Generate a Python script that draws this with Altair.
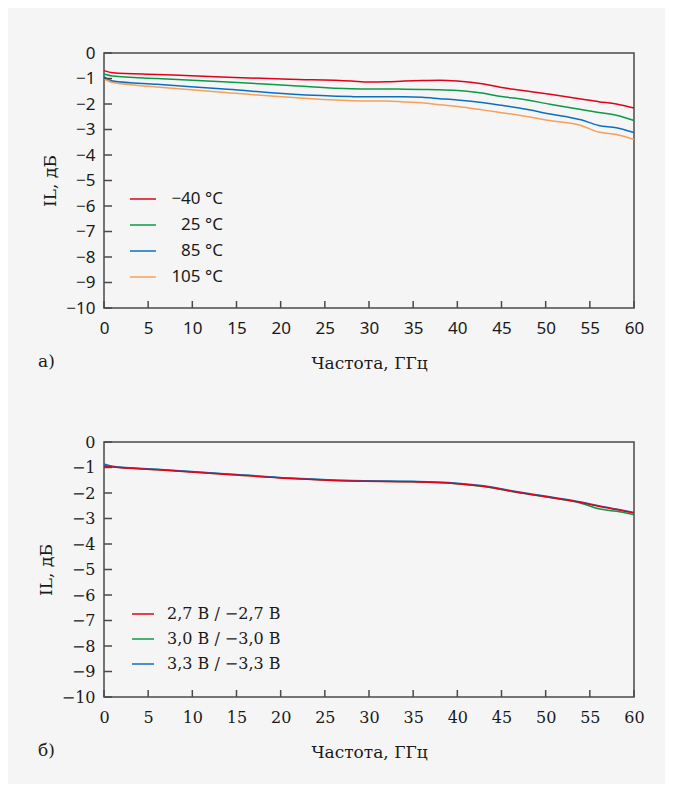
import altair as alt
import pandas as pd

# ---------- panel а) temperature ----------
freq_a = [0, 1, 6, 14, 21, 28, 30, 32, 34, 36, 38, 40, 43, 45, 47, 50.5, 54, 56, 58, 60]
il_m40 = [-0.69, -0.77, -0.84, -0.95, -1.03, -1.10, -1.14, -1.13, -1.10, -1.08, -1.07, -1.10,
          -1.22, -1.35, -1.45, -1.62, -1.80, -1.91, -2.00, -2.16]
il_25 = [-0.82, -0.90, -1.00, -1.14, -1.27, -1.40, -1.41, -1.41, -1.42, -1.43, -1.44, -1.47,
         -1.58, -1.71, -1.79, -2.01, -2.22, -2.33, -2.44, -2.65]
il_85 = [-0.93, -1.10, -1.23, -1.42, -1.61, -1.71, -1.72, -1.72, -1.72, -1.74, -1.79, -1.84,
         -1.95, -2.05, -2.16, -2.39, -2.62, -2.84, -2.93, -3.12]
il_105 = [-1.02, -1.16, -1.33, -1.56, -1.74, -1.87, -1.88, -1.88, -1.92, -1.95, -2.03, -2.10,
          -2.24, -2.34, -2.44, -2.65, -2.84, -3.10, -3.20, -3.39]
temp_labels = ["−40 °C", "25 °C", "85 °C", "105 °C"]
temp_colors = ["#e3001b", "#0a9a48", "#0b6fc0", "#f7a05a"]

# ---------- panel б) supply voltage ----------
freq_b = [0, 1, 6, 14, 21, 28, 35, 39, 42.7, 46.5, 50.3, 54, 56, 58, 60]
il_27 = [-0.95, -0.98, -1.09, -1.27, -1.43, -1.53, -1.56, -1.61, -1.73, -1.95, -2.16, -2.37,
         -2.52, -2.65, -2.78]
il_30 = [-0.92, -0.97, -1.08, -1.26, -1.42, -1.52, -1.56, -1.61, -1.74, -1.96, -2.17, -2.40,
         -2.62, -2.72, -2.85]
il_33 = [-0.86, -0.95, -1.07, -1.25, -1.41, -1.51, -1.54, -1.59, -1.71, -1.93, -2.14, -2.35,
         -2.50, -2.63, -2.76]
volt_labels = ["2,7 В / −2,7 В", "3,0 В / −3,0 В", "3,3 В / −3,3 В"]
volt_colors = ["#e3001b", "#0a9a48", "#0b6fc0"]

x_ticks = list(range(0, 61, 5))
y_ticks = list(range(0, -11, -1))

W, H = 530, 255
FRAME = "#4a4a4a"
SANS = "Noto Sans"
SERIF = "DejaVu Serif"


def build(freqs, series, labels, draw_order):
    rows = []
    for lab in draw_order:
        vals = series[labels.index(lab)]
        for f, v in zip(freqs, vals):
            rows.append({"f": f, "il": v, "s": lab})
    return pd.DataFrame(rows)


df_a = build(freq_a, [il_m40, il_25, il_85, il_105], temp_labels,
             [temp_labels[3], temp_labels[2], temp_labels[1], temp_labels[0]])
df_b = build(freq_b, [il_27, il_30, il_33], volt_labels,
             [volt_labels[1], volt_labels[2], volt_labels[0]])

xscale = alt.Scale(domain=[0, 60], nice=False, zero=False)
yscale = alt.Scale(domain=[-10, 0], nice=False, zero=False)


def panel(df, labels, colors, font, fsize, legend, tag):
    x_axis = alt.Axis(values=x_ticks, title="Частота, ГГц", ticks=False, domain=False,
                      grid=False, labelFont=font, labelFontSize=fsize, labelColor="#1a1a1a",
                      labelPadding=12, titleFont=SERIF, titleFontSize=17,
                      titleFontWeight="normal", titleColor="#1a1a1a", titlePadding=19,
                      labelFlush=False, labelOverlap=False)
    y_axis = alt.Axis(values=y_ticks, title="IL, дБ", ticks=False, domain=False,
                      grid=False, labelFont=font, labelFontSize=fsize, labelColor="#1a1a1a",
                      labelPadding=9, titleFont=SERIF, titleFontSize=17,
                      titleFontWeight="normal", titleColor="#1a1a1a", titlePadding=6,
                      labelFlush=False, labelOverlap=False,
                      labelExpr="replace(datum.label, '-', '−')")
    lines = alt.Chart(df).mark_line(strokeWidth=1.5, interpolate="monotone").encode(
        x=alt.X("f:Q", scale=xscale, axis=x_axis),
        y=alt.Y("il:Q", scale=yscale, axis=y_axis),
        color=alt.Color("s:N", scale=alt.Scale(domain=labels, range=colors),
                        sort=labels, legend=legend),
    )
    yt = alt.Chart(pd.DataFrame({"il": y_ticks})).mark_rule(color=FRAME, strokeWidth=1.5).encode(
        y=alt.Y("il:Q", scale=yscale, axis=y_axis), x=alt.value(0), x2=alt.value(8))
    xt = alt.Chart(pd.DataFrame({"f": x_ticks})).mark_rule(color=FRAME, strokeWidth=1.5).encode(
        x=alt.X("f:Q", scale=xscale, axis=x_axis), y=alt.value(H), y2=alt.value(H - 7))
    lab = alt.Chart(pd.DataFrame({"t": [tag]})).mark_text(
        align="left", baseline="alphabetic", font=SERIF, fontSize=17, color="#1a1a1a"
    ).encode(text="t:N", x=alt.value(-66), y=alt.value(H + 59))
    return alt.layer(lines, yt, xt, lab).properties(width=W, height=H)


leg_a = alt.Legend(orient="none", legendX=25, legendY=132, title=None, symbolType="stroke",
                   symbolSize=676, symbolStrokeWidth=1.5, labelFont=SANS, labelFontSize=17,
                   labelColor="#1a1a1a", labelAlign="right", labelOffset=66, rowPadding=4,
                   labelLimit=200)
leg_b = alt.Legend(orient="none", legendX=27, legendY=160, title=None, symbolType="stroke",
                   symbolSize=484, symbolStrokeWidth=1.5, labelFont=SERIF, labelFontSize=16,
                   labelColor="#1a1a1a", labelOffset=12, rowPadding=5, labelLimit=300)

pa = panel(df_a, temp_labels, temp_colors, SANS, 17, leg_a, "а)")
pb = panel(df_b, volt_labels, volt_colors, SERIF, 16, leg_b, "б)")

chart = alt.vconcat(pa, pb, spacing=61).resolve_scale(color="independent").resolve_legend(
    color="independent"
).properties(
    background="#f5f5f5",
    padding={"left": 28, "top": 35, "right": 20, "bottom": 23},
).configure_view(stroke=FRAME, strokeWidth=1.5)

chart.save("out.html", embed_options={"renderer": "svg", "actions": False})
